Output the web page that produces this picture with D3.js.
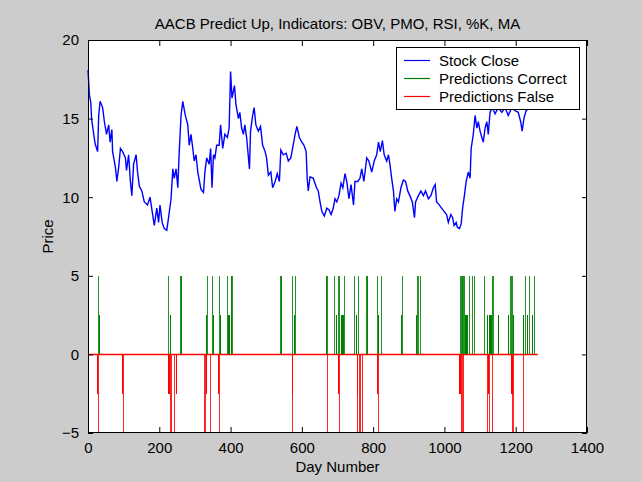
<!DOCTYPE html>
<html>
<head>
<meta charset="utf-8">
<script src="https://cdn.jsdelivr.net/npm/d3@7"></script>
<style>
  body { margin: 0; background: #cccccc; }
  svg text { font-family: "Liberation Sans", Arial, sans-serif; fill: #000; }
</style>
</head>
<body>
<div id="chart"></div>
<script>
var svgWidth = 642;
var svgHeight = 482;

var margin = { top: 40, right: 55, bottom: 49, left: 88 };
var width = svgWidth - margin.left - margin.right;
var height = svgHeight - margin.top - margin.bottom;

// stock close as [day, price]
var closeDays = [0, 4, 8, 10, 13, 20, 27, 30, 34, 41, 46, 52, 58, 62, 67, 69, 77, 81, 86, 91, 97, 105, 108, 114, 119, 123, 128, 135, 139, 144, 151, 158, 167, 174, 180, 186, 193, 198, 202, 208, 214, 221, 226, 233, 238, 242, 247, 252, 256, 261, 266, 273, 280, 284, 289, 294, 298, 303, 308, 317, 324, 328, 333, 340, 344, 348, 352, 356, 361, 368, 372, 378, 384, 391, 396, 400, 404, 411, 415, 422, 426, 431, 436, 440, 445, 453, 456, 462, 466, 471, 478, 484, 490, 497, 501, 506, 513, 518, 525, 531, 537, 541, 548, 556, 562, 569, 574, 581, 586, 593, 600, 606, 612, 615, 618, 623, 632, 641, 646, 651, 656, 663, 670, 676, 682, 688, 693, 698, 704, 710, 715, 721, 726, 732, 738, 745, 749, 757, 763, 768, 774, 782, 788, 796, 803, 810, 815, 820, 826, 831, 838, 843, 847, 852, 857, 861, 866, 871, 878, 885, 891, 897, 903, 910, 916, 919, 927, 934, 941, 947, 955, 962, 969, 974, 978, 986, 992, 999, 1006, 1011, 1018, 1023, 1027, 1033, 1036, 1042, 1047, 1051, 1056, 1061, 1067, 1072, 1075, 1081, 1086, 1091, 1095, 1100, 1105, 1109, 1114, 1119, 1123, 1128, 1135, 1142, 1151, 1161, 1170, 1179, 1189, 1198, 1207, 1214, 1218, 1223, 1229, 1240, 1249, 1259];
var closePrices = [18.1, 16.5, 16.0, 15.0, 14.5, 13.4, 12.9, 15.2, 16.1, 15.7, 14.8, 14.0, 14.6, 13.5, 14.3, 12.9, 11.9, 11.0, 11.9, 13.1, 12.9, 12.5, 11.7, 12.7, 11.0, 10.1, 12.1, 12.7, 11.6, 10.7, 10.4, 9.7, 9.5, 10.0, 9.1, 8.2, 9.3, 8.4, 9.5, 8.4, 8.0, 7.9, 8.7, 9.9, 11.8, 11.2, 11.8, 10.6, 12.9, 15.2, 16.1, 15.2, 14.6, 13.3, 14.0, 13.1, 12.3, 12.7, 11.6, 10.5, 10.3, 11.6, 12.5, 12.1, 13.1, 10.6, 12.7, 12.5, 13.3, 13.3, 14.6, 13.1, 14.0, 13.8, 14.4, 18.0, 16.3, 17.1, 15.9, 15.0, 15.4, 14.4, 14.0, 14.6, 13.8, 11.8, 14.2, 15.2, 15.7, 14.6, 14.2, 14.5, 13.3, 12.9, 12.5, 11.4, 11.6, 10.6, 11.0, 11.5, 11.0, 13.0, 12.7, 12.8, 12.3, 12.5, 13.1, 14.0, 14.5, 13.8, 13.5, 13.3, 12.9, 11.2, 10.4, 11.3, 11.2, 10.6, 10.4, 9.7, 9.1, 8.8, 9.3, 9.2, 8.9, 9.3, 9.9, 9.7, 10.1, 10.9, 10.6, 11.5, 11.0, 9.9, 10.8, 9.5, 11.0, 11.0, 11.2, 11.8, 11.0, 12.5, 12.3, 11.6, 12.3, 12.7, 13.5, 12.9, 13.6, 12.7, 12.3, 12.7, 12.1, 11.2, 10.4, 9.1, 9.9, 9.7, 10.6, 11.1, 11.0, 10.4, 10.1, 9.7, 8.7, 9.7, 10.1, 10.4, 10.1, 10.4, 9.9, 10.1, 10.6, 10.8, 9.7, 9.5, 9.3, 9.1, 8.9, 8.4, 8.9, 8.7, 8.2, 8.4, 8.1, 8.0, 8.3, 9.3, 10.1, 11.0, 11.6, 11.2, 13.1, 14.0, 15.2, 14.4, 14.8, 14.2, 13.8, 13.5, 14.4, 14.8, 14.0, 15.4, 15.7, 15.3, 15.7, 15.4, 15.7, 15.2, 15.7, 15.5, 15.4, 14.8, 14.2, 15.0, 15.5, 15.7, 15.8, 15.7];

// correct predictions: spikes up to 5 (and a few half-height ones)
var correctDays = [29, 225, 258, 260, 262, 333, 349, 368, 391, 400, 402, 404, 539, 541, 542, 573, 581, 667, 669, 671, 690, 702, 705, 718, 747, 758, 780, 782, 784, 810, 821, 880, 922, 927, 932, 1044, 1046, 1048, 1050, 1052, 1055, 1070, 1076, 1083, 1111, 1134, 1137, 1184, 1186, 1189, 1226, 1237, 1251];
var correctHalfDays = [32, 229, 331, 351, 370, 392, 394, 396, 577, 695, 709, 711, 713, 715, 752, 814, 877, 919, 1057, 1059, 1061, 1063, 1119, 1126, 1128, 1130, 1151, 1179, 1192, 1221, 1233, 1245];

// false predictions: spikes down to -5 (and a few half-height ones)
var falseDays = [29, 97, 230, 233, 242, 326, 329, 342, 368, 573, 671, 703, 754, 761, 764, 768, 813, 1046, 1050, 1053, 1119, 1124, 1134, 1190, 1193, 1221];
var falseHalfDays = [26, 94, 225, 227, 246, 330, 364, 571, 700, 756, 810, 1041, 1043, 1121, 1123, 1187, 1189];
var lastDay = 1262;

var xTicks = [0, 200, 400, 600, 800, 1000, 1200, 1400];
var yTicks = [-5, 0, 5, 10, 15, 20];

var seriesNames = ["Stock Close", "Predictions Correct", "Predictions False"];
var seriesColors = ["#0000ff", "#008000", "#ff0000"];

var svg = d3.select("#chart")
  .append("svg")
  .attr("width", svgWidth)
  .attr("height", svgHeight);

svg.append("rect")
  .attr("width", svgWidth)
  .attr("height", svgHeight)
  .attr("fill", "#cccccc");

var chartGroup = svg.append("g")
  .attr("transform", `translate(${margin.left}, ${margin.top})`);

var x = d3.scaleLinear().domain([0, 1400]).range([0, width]);
var y = d3.scaleLinear().domain([-5, 20]).range([height, 0]);

chartGroup.append("rect")
  .attr("width", width)
  .attr("height", height)
  .attr("fill", "#ffffff");

// zero line of the false series
chartGroup.append("line")
  .attr("x1", x(0))
  .attr("x2", x(lastDay))
  .attr("y1", Math.round(y(0)) + 0.5)
  .attr("y2", Math.round(y(0)) + 0.5)
  .attr("stroke", seriesColors[2])
  .attr("stroke-width", 1.3);

function spikes(days, top, color, opacity) {
  chartGroup.append("g")
    .selectAll("line")
    .data(days)
    .enter()
    .append("line")
    .attr("x1", d => Math.round(x(d)) + 0.5)
    .attr("x2", d => Math.round(x(d)) + 0.5)
    .attr("y1", y(0))
    .attr("y2", y(top))
    .attr("stroke", color)
    .attr("stroke-opacity", opacity)
    .attr("stroke-width", 1)
    .attr("shape-rendering", "crispEdges");
}

spikes(correctHalfDays, 2.5, seriesColors[1], 1);
spikes(correctDays, 5, seriesColors[1], 0.85);
spikes(falseHalfDays, -2.5, seriesColors[2], 1);
spikes(falseDays, -5, seriesColors[2], 0.85);

// stock close line
var closeLine = d3.line()
  .x((d, i) => x(closeDays[i]))
  .y(d => y(d));

chartGroup.append("path")
  .datum(closePrices)
  .attr("d", closeLine)
  .attr("fill", "none")
  .attr("stroke", seriesColors[0])
  .attr("stroke-width", 1.4)
  .attr("stroke-linejoin", "miter");

// axes with inward ticks on all four sides
var bottomAxis = d3.axisBottom(x).tickValues(xTicks).tickSize(-6).tickPadding(9).tickFormat(d3.format("d"));
var topAxis = d3.axisTop(x).tickValues(xTicks).tickSize(-6).tickFormat("");
var leftAxis = d3.axisLeft(y).tickValues(yTicks).tickSize(-5).tickPadding(9).tickFormat(d3.format("d"));
var rightAxis = d3.axisRight(y).tickValues(yTicks).tickSize(-5).tickFormat("");

function styleAxis(g) {
  g.select(".domain").remove();
  g.selectAll(".tick line").attr("stroke", "#000");
  g.selectAll("text")
    .style("font-size", "15px")
    .style("font-family", "'Liberation Sans', Arial, sans-serif")
    .attr("fill", "#000");
}

chartGroup.append("g").attr("transform", `translate(0, ${height})`).call(bottomAxis).call(styleAxis);
chartGroup.append("g").call(topAxis).call(styleAxis);
chartGroup.append("g").call(leftAxis).call(styleAxis);
chartGroup.append("g").attr("transform", `translate(${width}, 0)`).call(rightAxis).call(styleAxis);

chartGroup.append("rect")
  .attr("x", 0.5)
  .attr("y", 0.5)
  .attr("width", width - 1)
  .attr("height", height - 1)
  .attr("fill", "none")
  .attr("stroke", "#000")
  .attr("stroke-width", 1);

// legend
var legend = chartGroup.append("g")
  .attr("transform", `translate(${396 - margin.left}, ${47 - margin.top})`);

legend.append("rect")
  .attr("x", 0.5)
  .attr("y", 0.5)
  .attr("width", 183)
  .attr("height", 62)
  .attr("fill", "#ffffff")
  .attr("stroke", "#000");

seriesNames.forEach(function (name, i) {
  var ly = 13.5 + i * 18;
  legend.append("line")
    .attr("x1", 8)
    .attr("x2", 34)
    .attr("y1", ly)
    .attr("y2", ly)
    .attr("stroke", seriesColors[i])
    .attr("stroke-width", 1.2);
  legend.append("text")
    .attr("x", 43)
    .attr("y", ly + 5)
    .style("font-size", "15px")
    .text(name);
});

// titles
svg.append("text")
  .attr("x", margin.left + width / 2)
  .attr("y", 29)
  .attr("text-anchor", "middle")
  .style("font-size", "15px")
  .text("AACB Predict Up, Indicators: OBV, PMO, RSI, %K, MA");

svg.append("text")
  .attr("x", margin.left + width / 2)
  .attr("y", 472)
  .attr("text-anchor", "middle")
  .style("font-size", "15px")
  .text("Day Number");

svg.append("text")
  .attr("transform", `translate(53, ${margin.top + height / 2}) rotate(-90)`)
  .attr("text-anchor", "middle")
  .style("font-size", "15px")
  .text("Price");
</script>
</body>
</html>
